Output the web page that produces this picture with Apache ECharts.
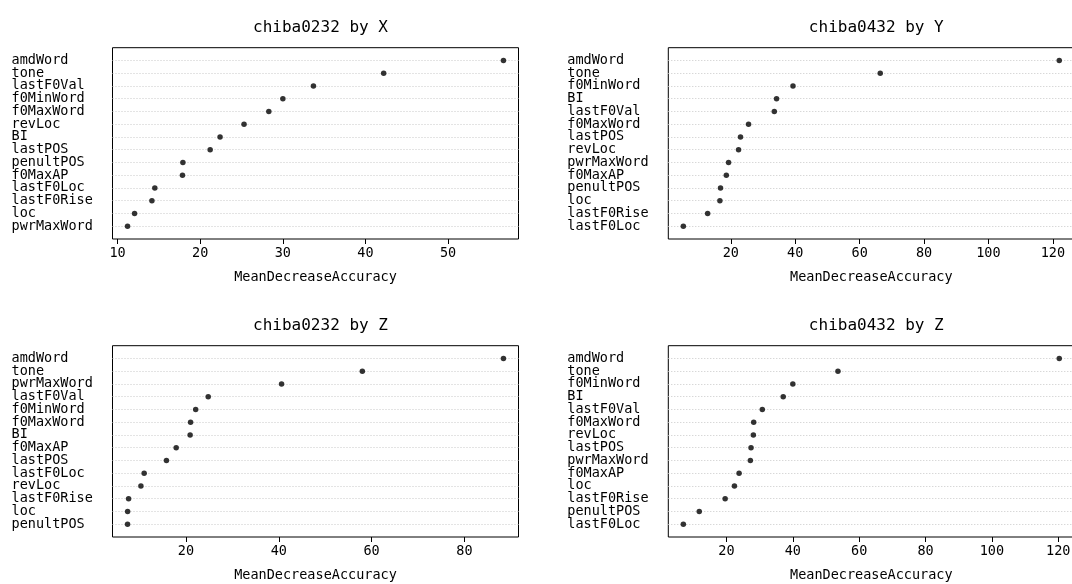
<!DOCTYPE html>
<html>
<head>
<meta charset="utf-8">
<script src="https://cdn.jsdelivr.net/npm/echarts@6/dist/echarts.min.js"></script>
<style>
  html, body { margin: 0; padding: 0; background: #fff; overflow: hidden; }
  #main { width: 1090px; height: 584px; }
</style>
</head>
<body>
<div id="main"></div>
<script>
// chiba0232 by X
const labels232X = ['amdWord', 'tone', 'lastF0Val', 'f0MinWord', 'f0MaxWord', 'revLoc', 'BI',
  'lastPOS', 'penultPOS', 'f0MaxAP', 'lastF0Loc', 'lastF0Rise', 'loc', 'pwrMaxWord'];
const values232X = [56.7, 42.2, 33.7, 30.0, 28.3, 25.3, 22.4, 21.2, 17.9, 17.85, 14.5, 14.15, 12.05, 11.2];
const ticks232X = [10, 20, 30, 40, 50];

// chiba0432 by Y
const labels432Y = ['amdWord', 'tone', 'f0MinWord', 'BI', 'lastF0Val', 'f0MaxWord', 'lastPOS',
  'revLoc', 'pwrMaxWord', 'f0MaxAP', 'penultPOS', 'loc', 'lastF0Rise', 'lastF0Loc'];
const values432Y = [122.0, 66.4, 39.3, 34.2, 33.5, 25.5, 23.0, 22.4, 19.3, 18.6, 16.8, 16.6, 12.8, 5.25];
const ticks432Y = [20, 40, 60, 80, 100, 120];

// chiba0232 by Z
const labels232Z = ['amdWord', 'tone', 'pwrMaxWord', 'lastF0Val', 'f0MinWord', 'f0MaxWord', 'BI',
  'f0MaxAP', 'lastPOS', 'lastF0Loc', 'revLoc', 'lastF0Rise', 'loc', 'penultPOS'];
const values232Z = [88.4, 58.0, 40.6, 24.8, 22.1, 21.0, 20.9, 17.9, 15.8, 11.0, 10.3, 7.65, 7.44, 7.42];
const ticks232Z = [20, 40, 60, 80];

// chiba0432 by Z
const labels432Z = ['amdWord', 'tone', 'f0MinWord', 'BI', 'lastF0Val', 'f0MaxWord', 'revLoc',
  'lastPOS', 'pwrMaxWord', 'f0MaxAP', 'loc', 'lastF0Rise', 'penultPOS', 'lastF0Loc'];
const values432Z = [120.3, 53.6, 40.0, 37.1, 30.8, 28.2, 28.1, 27.4, 27.2, 23.8, 22.4, 19.6, 11.8, 7.0];
const ticks432Z = [20, 40, 60, 80, 100, 120];

const titles = ['chiba0232 by X', 'chiba0432 by Y', 'chiba0232 by Z', 'chiba0432 by Z'];
const axisTitle = 'MeanDecreaseAccuracy';

const panels = [
  { labels: labels232X, values: values232X, ticks: ticks232X, left: 112.5, top: 47.7 },
  { labels: labels432Y, values: values432Y, ticks: ticks432Y, left: 668.3, top: 47.7 },
  { labels: labels232Z, values: values232Z, ticks: ticks232Z, left: 112.5, top: 345.7 },
  { labels: labels432Z, values: values432Z, ticks: ticks432Z, left: 668.3, top: 345.7 }
];
const boxW = 406, boxH = 191.3;
const mono = 'DejaVu Sans Mono';

const grid = [], xAxis = [], yAxis = [], series = [], title = [];

panels.forEach((p, i) => {
  // R dotchart pads the data range by 4% on each side
  const lo = Math.min(...p.values), hi = Math.max(...p.values);
  const pad = (hi - lo) * 0.04;

  grid.push({
    left: p.left, top: p.top, width: boxW, height: boxH,
    show: true, borderColor: '#000', borderWidth: 1, backgroundColor: 'transparent'
  });
  xAxis.push({
    type: 'value', gridIndex: i, min: lo - pad, max: hi + pad,
    axisLine: { show: false },
    axisTick: { show: true, length: 5, customValues: p.ticks, lineStyle: { color: '#000' } },
    axisLabel: { customValues: p.ticks, margin: 7, color: '#000', fontFamily: mono, fontSize: 13.5 },
    splitLine: { show: false },
    name: axisTitle, nameLocation: 'middle', nameGap: 31,
    nameTextStyle: { color: '#000', fontFamily: mono, fontSize: 13.5 }
  });
  yAxis.push({
    type: 'category', gridIndex: i, boundaryGap: false,
    data: [''].concat(p.labels.slice().reverse(), ['']),
    axisLine: { show: false },
    axisTick: { show: false },
    axisLabel: { interval: 0, align: 'left', margin: 101, color: '#000', fontFamily: mono, fontSize: 13.5 },
    splitLine: {
      show: true,
      interval: (idx, v) => v !== '',
      lineStyle: { color: '#c8c8c8', width: 1, type: [1, 2] }
    }
  });
  series.push({
    type: 'scatter', xAxisIndex: i, yAxisIndex: i,
    symbol: 'circle', symbolSize: 5.5,
    itemStyle: { color: '#000' },
    data: p.labels.map((l, k) => [p.values[k], l]),
    silent: true
  });
  title.push({
    text: titles[i], left: p.left + boxW / 2, top: p.top - 33, textAlign: 'center',
    textStyle: { fontFamily: mono, fontSize: 16, fontWeight: 'normal', color: '#000' }
  });
});

const chart = echarts.init(document.getElementById('main'));
chart.setOption({
  backgroundColor: '#fff',
  animation: false,
  title, grid, xAxis, yAxis, series
});
</script>
</body>
</html>
